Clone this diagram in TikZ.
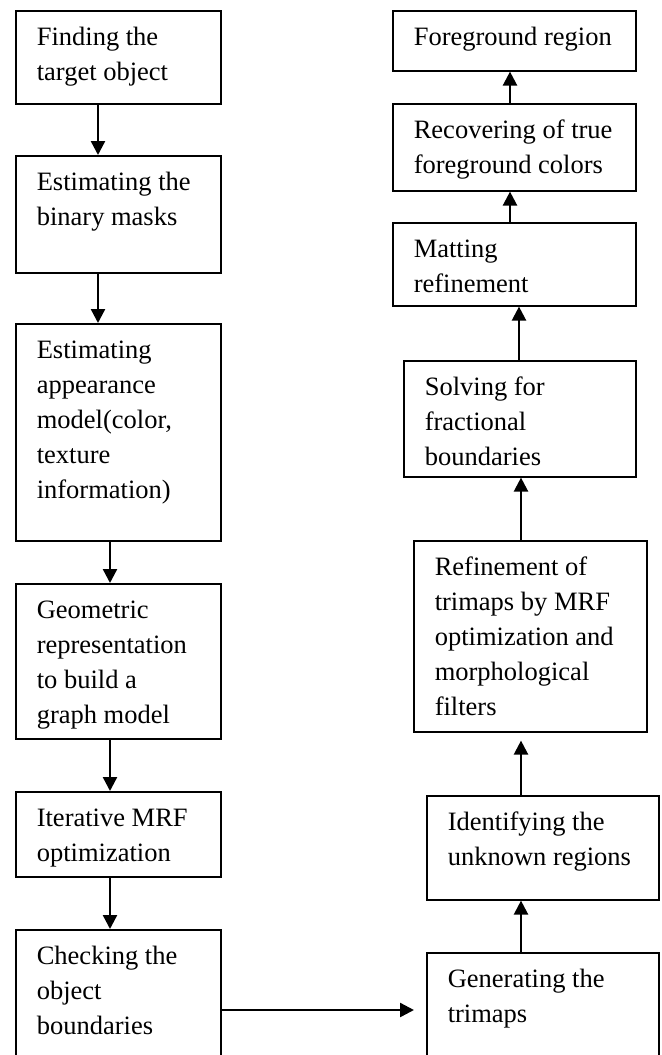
\documentclass[tikz,border=0pt]{standalone}
\usepackage{fontspec}
\setmainfont{Liberation Serif}
\usetikzlibrary{arrows.meta}

\newlength{\pxu}
\setlength{\pxu}{0.5pt}
% box of #1 x #2 px, text starts top left
\newcommand{\blocktext}[3]{\parbox[t][#2\pxu][t]{#1\pxu}{\raggedright\leftskip=21\pxu\rule{0pt}{35\pxu}#3}}

\begin{document}
\begin{tikzpicture}
		[x=0.5pt, y=-0.5pt,
		block/.style={draw=black, line width=0.8pt, anchor=north west, inner sep=0pt,
			font=\fontsize{13.25}{17.5}\selectfont},
		>={Triangle[length=7pt, width=7pt]}]
		\useasboundingbox (0,0) rectangle (662,1055);

		\node[block] (find) at (15,10) {\blocktext{205}{93}{Finding the\\target object}};
		\node[block] (mask) at (15,155) {\blocktext{205}{117}{Estimating the\\binary masks}};
		\node[block] (appear) at (15,323) {\blocktext{205}{217}{Estimating\\appearance\\model(color,\\texture\\information)}};
		\node[block] (geom) at (15,583) {\blocktext{205}{155}{Geometric\\representation\\to build a\\graph model}};
		\node[block] (mrf) at (15,791) {\blocktext{205}{85}{Iterative MRF\\optimization}};
		\node[block] (check) at (15,929) {\blocktext{205}{140}{Checking the\\object\\boundaries}};

		\node[block] (fg) at (392,10) {\blocktext{243}{60}{Foreground region}};
		\node[block] (recover) at (392,103) {\blocktext{243}{87}{Recovering of true\\foreground colors}};
		\node[block] (matting) at (392,222) {\blocktext{243}{83}{Matting\\refinement}};
		\node[block] (solve) at (403,360) {\blocktext{232}{116}{Solving for\\fractional\\boundaries}};
		\node[block] (refine) at (413,540) {\blocktext{233}{191}{Refinement of\\trimaps by MRF\\optimization and\\morphological\\filters}};
		\node[block] (unknown) at (426,795) {\blocktext{232}{104}{Identifying the\\unknown regions}};
		\node[block] (trimap) at (426,952) {\blocktext{232}{115}{Generating the\\trimaps}};

		\draw[->, line width=1.2pt] (find.south -| 98,0) to (mask.north -| 98,0);
		\draw[->, line width=1.2pt] (mask.south -| 98,0) to (appear.north -| 98,0);
		\draw[->, line width=1.2pt] (appear.south -| 110,0) to (geom.north -| 110,0);
		\draw[->, line width=1.2pt] (geom.south -| 110,0) to (mrf.north -| 110,0);
		\draw[->, line width=1.2pt] (mrf.south -| 110,0) to (check.north -| 110,0);
		\draw[->, line width=1.2pt] (check.east |- 0,1010) to ([xshift=-6pt]trimap.west |- 0,1010);

		\draw[->, line width=1.2pt] (trimap.north -| 521,0) to (unknown.south -| 521,0);
		\draw[->, line width=1.2pt, shorten >=4pt] (unknown.north -| 521,0) to (refine.south -| 521,0);
		\draw[->, line width=1.2pt] (refine.north -| 521,0) to (solve.south -| 521,0);
		\draw[->, line width=1.2pt] (solve.north -| 519,0) to (matting.south -| 519,0);
		\draw[->, line width=1.2pt] (matting.north -| 510,0) to (recover.south -| 510,0);
		\draw[->, line width=1.2pt] (recover.north -| 510,0) to (fg.south -| 510,0);
	\end{tikzpicture}
\end{document}
